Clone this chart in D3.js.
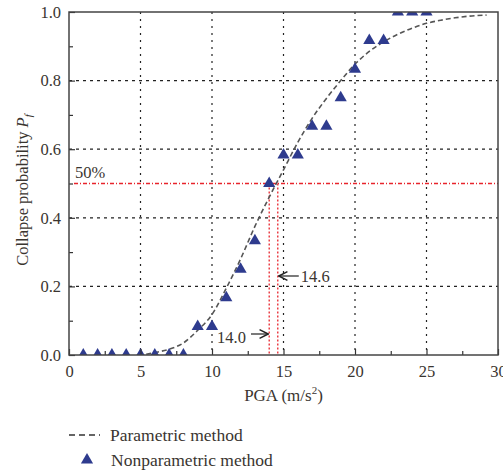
<!DOCTYPE html>
<html>
<head>
<meta charset="utf-8">
<script src="https://cdn.jsdelivr.net/npm/d3@7"></script>
<style>
  body { margin: 0; background: #fff; }
  text { font-family: "Liberation Serif", "DejaVu Serif", serif; fill: #3a3530; }
</style>
</head>
<body>
<svg id="chart" width="503" height="472"></svg>
<script>
// nonparametric (empirical) points
var pgaPoints = [1, 2, 3, 4, 5, 6, 7, 8, 9, 10, 11, 12, 13, 14, 15, 16, 17, 18, 19, 20, 21, 22, 23, 24, 25];
var probPoints = [0, 0, 0, 0, 0, 0, 0, 0, 0.083, 0.083, 0.167, 0.25, 0.333, 0.5, 0.583, 0.583,
                  0.667, 0.667, 0.75, 0.833, 0.917, 0.917, 1, 1, 1];

// parametric fitted curve
var curveX = [5.4, 6, 7, 8, 9, 10, 11, 12, 13, 14, 15, 16, 17, 18, 19, 20, 21, 22, 23, 24, 25, 26, 27, 28, 29.2];
var curveY = [0.002, 0.007, 0.017, 0.035, 0.072, 0.118, 0.195, 0.28, 0.375, 0.46, 0.54, 0.62, 0.69, 0.748, 0.80,
              0.848, 0.885, 0.913, 0.935, 0.953, 0.967, 0.976, 0.983, 0.988, 0.991];

var xTicks = [0, 5, 10, 15, 20, 25, 30];
var yTicks = [0, 0.2, 0.4, 0.6, 0.8, 1.0];
var medianNonparam = 14.0;
var medianParam = 14.6;

var margin = {left: 69, top: 12, right: 5, bottom: 117};
var W = 503, H = 472;
var pw = W - margin.left - margin.right;  // 429
var ph = H - margin.top - margin.bottom;  // 343

var svg = d3.select("#chart");
var g = svg.append("g").attr("transform", "translate(" + margin.left + "," + margin.top + ")");

var x = d3.scaleLinear().domain([0, 30]).range([0, pw]);
var y = d3.scaleLinear().domain([0, 1]).range([ph, 0]);

svg.append("defs").append("clipPath").attr("id", "plotclip")
  .append("rect").attr("width", pw).attr("height", ph);

// GRID
g.selectAll(".vgrid").data(xTicks.slice(1, -1)).enter()
  .append("line").attr("class", "vgrid")
  .attr("x1", function (d) { return x(d); }).attr("x2", function (d) { return x(d); })
  .attr("y1", 0).attr("y2", ph)
  .attr("stroke", "#222").attr("stroke-width", 1.2).attr("stroke-dasharray", "2,5");
g.selectAll(".hgrid").data(yTicks.slice(1, -1)).enter()
  .append("line").attr("class", "hgrid")
  .attr("y1", function (d) { return y(d); }).attr("y2", function (d) { return y(d); })
  .attr("x1", 0).attr("x2", pw)
  .attr("stroke", "#222").attr("stroke-width", 1.2).attr("stroke-dasharray", "3,4");

// 50% LINES
g.append("line")
  .attr("x1", 5).attr("x2", pw).attr("y1", y(0.5)).attr("y2", y(0.5))
  .attr("stroke", "#e8242c").attr("stroke-width", 1.3).attr("stroke-dasharray", "4,2,1,2");
[medianNonparam, medianParam].forEach(function (m) {
  g.append("line")
    .attr("x1", x(m)).attr("x2", x(m)).attr("y1", y(0.5)).attr("y2", ph)
    .attr("stroke", "#e8242c").attr("stroke-width", 1.3).attr("stroke-dasharray", "2,2");
});

g.append("text").attr("x", 6).attr("y", y(0.5) - 6).style("font-size", "16.5px").text("50%");

// ANNOTATIONS
svg.append("defs").append("marker")
  .attr("id", "arrow").attr("viewBox", "0 0 10 10").attr("refX", 9).attr("refY", 5)
  .attr("markerWidth", 9).attr("markerHeight", 9).attr("orient", "auto-start-reverse")
  .append("path").attr("d", "M1,1 L9,5 L1,9").attr("fill", "none").attr("stroke", "#222").attr("stroke-width", 1.3);

g.append("text").attr("x", 217 - margin.left).attr("y", 343 - margin.top)
  .style("font-size", "16.5px").text("14.0");
g.append("line")
  .attr("x1", 251 - margin.left).attr("x2", x(medianNonparam) - 1)
  .attr("y1", 334 - margin.top).attr("y2", 334 - margin.top)
  .attr("stroke", "#222").attr("stroke-width", 1.2).attr("marker-end", "url(#arrow)");

g.append("line")
  .attr("x1", x(medianParam) + 21).attr("x2", x(medianParam) + 1)
  .attr("y1", 276 - margin.top).attr("y2", 276 - margin.top)
  .attr("stroke", "#222").attr("stroke-width", 1.2).attr("marker-end", "url(#arrow)");
g.append("text").attr("x", x(medianParam) + 23).attr("y", 282 - margin.top)
  .style("font-size", "16.5px").text("14.6");

// CURVE
var line = d3.line()
  .x(function (d, i) { return x(curveX[i]); })
  .y(function (d, i) { return y(curveY[i]); })
  .curve(d3.curveMonotoneX);
g.append("path").datum(curveX)
  .attr("d", line)
  .attr("fill", "none").attr("stroke", "#555").attr("stroke-width", 1.6)
  .attr("stroke-dasharray", "5,3");

// TRIANGLES
var tri = d3.symbol().type(d3.symbolTriangle).size(64);
g.append("g").attr("clip-path", "url(#plotclip)")
  .selectAll("path").data(pgaPoints).enter()
  .append("path")
  .attr("d", tri)
  .attr("transform", function (d, i) { return "translate(" + x(d) + "," + y(probPoints[i]) + ")"; })
  .attr("fill", "#2e3b8e");

// AXES
var xAxis = d3.axisBottom(x).tickValues(xTicks).tickSizeInner(-6).tickSizeOuter(0).tickPadding(10)
  .tickFormat(d3.format("d"));
var xMinor = d3.axisBottom(x).tickValues([2.5, 7.5, 12.5, 17.5, 22.5, 27.5]).tickSizeInner(-4).tickSizeOuter(0).tickFormat("");
var yAxis = d3.axisLeft(y).tickValues(yTicks).tickSizeInner(-6).tickSizeOuter(0).tickPadding(8)
  .tickFormat(d3.format(".1f"));
var yMinor = d3.axisLeft(y).tickValues([0.1, 0.3, 0.5, 0.7, 0.9]).tickSizeInner(-4).tickSizeOuter(0).tickFormat("");

[xAxis, xMinor].forEach(function (a) {
  g.append("g").attr("transform", "translate(0," + ph + ")").call(a);
});
[yAxis, yMinor].forEach(function (a) {
  g.append("g").call(a);
});
g.selectAll(".tick line").attr("stroke", "#333").attr("stroke-width", 1.2);
g.selectAll(".domain").remove();
g.selectAll(".tick text").style("font-size", "16.5px").style("font-family", "Liberation Serif").attr("fill", "#3a3530");

// frame
g.append("rect").attr("width", pw).attr("height", ph)
  .attr("fill", "none").attr("stroke", "#444").attr("stroke-width", 1.5);

// AXIS LABELS
var xl = svg.append("text").attr("x", margin.left + pw / 2).attr("y", 401)
  .attr("text-anchor", "middle").style("font-size", "17px");
xl.append("tspan").text("PGA (m/s");
xl.append("tspan").attr("dy", -7).style("font-size", "11px").text("2");
xl.append("tspan").attr("dy", 7).text(")");

var yl = svg.append("text")
  .attr("transform", "translate(28," + 190 + ") rotate(-90)")
  .attr("text-anchor", "middle").style("font-size", "16.5px");
yl.append("tspan").text("Collapse probability ");
yl.append("tspan").style("font-style", "italic").text("P");
yl.append("tspan").attr("dy", 4).style("font-style", "italic").style("font-size", "11px").text("f");

// LEGEND
svg.append("line").attr("x1", 69).attr("x2", 100).attr("y1", 435).attr("y2", 435)
  .attr("stroke", "#333").attr("stroke-width", 1.5).attr("stroke-dasharray", "6,4");
svg.append("text").attr("x", 110).attr("y", 441).style("font-size", "17.5px").text("Parametric method");
svg.append("path").attr("d", tri).attr("transform", "translate(87,460)").attr("fill", "#2e3b8e");
svg.append("text").attr("x", 111).attr("y", 466).style("font-size", "17.5px").text("Nonparametric method");
</script>
</body>
</html>
